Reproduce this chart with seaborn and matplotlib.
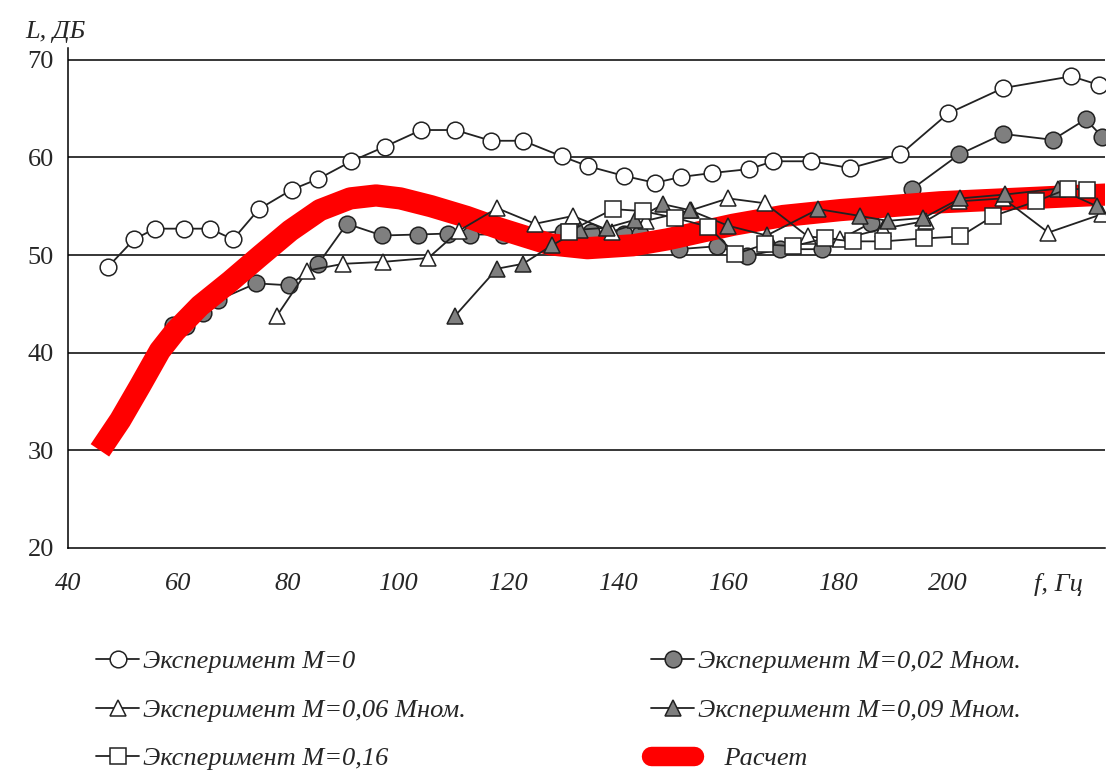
import numpy as np
import pandas as pd
import matplotlib
matplotlib.use('Agg')
import matplotlib.pyplot as plt
import seaborn as sns
from matplotlib.lines import Line2D

# -----------------------------------------------
# Data
# -----------------------------------------------
f_m0 = [47.3, 52.0, 55.8, 61.1, 65.8, 70.0, 74.7, 80.7, 85.5, 91.5, 97.6, 104.2, 110.4,
        116.9, 122.7, 129.8, 134.5, 141.1, 146.7, 151.5, 157.1, 163.8, 168.2, 175.1,
        182.2, 191.3, 200.0, 210.0, 222.4, 227.5]
L_m0 = [48.8, 51.6, 52.7, 52.7, 52.7, 51.6, 54.7, 56.7, 57.8, 59.6, 61.1, 62.8, 62.8,
        61.7, 61.7, 60.1, 59.1, 58.1, 57.4, 58.0, 58.4, 58.8, 59.6, 59.6,
        58.9, 60.3, 64.5, 67.1, 68.3, 67.4]

f_m002 = [59.0, 61.5, 64.5, 67.3, 74.2, 80.2, 85.5, 90.7, 97.1, 103.6, 109.0, 113.0, 119.0,
          130.0, 135.0, 141.0, 144.0, 151.0, 158.0, 163.5, 169.5, 177.0, 186.0, 193.5,
          202.0, 210.0, 219.0, 225.0, 228.0]
L_m002 = [42.8, 42.7, 44.1, 45.4, 47.1, 46.9, 49.1, 53.2, 52.0, 52.1, 52.2, 52.1, 52.1,
          52.4, 52.4, 52.2, 52.2, 50.6, 50.9, 49.9, 50.6, 50.6, 53.3, 56.8,
          60.3, 62.4, 61.8, 63.9, 62.1]

f_m006 = [78.0, 83.5, 90.0, 97.3, 105.5, 111.1, 118.0, 124.9, 131.8, 138.9, 145.0, 153.3,
          160.0, 166.7, 174.5, 180.4, 188.2, 196.0, 202.0, 210.0, 218.2, 228.0]
L_m006 = [43.8, 48.4, 49.1, 49.3, 49.7, 52.5, 54.8, 53.2, 54.0, 52.4, 53.5, 54.6,
          55.8, 55.3, 51.9, 51.6, 52.7, 53.5, 55.5, 55.8, 52.3, 54.2]

f_m009 = [110.4, 118.0, 122.7, 128.0, 133.0, 138.0, 143.0, 148.2, 153.0, 160.0, 167.0,
          176.4, 184.0, 189.0, 195.5, 202.2, 210.4, 220.0, 227.0]
L_m009 = [43.8, 48.6, 49.1, 51.0, 52.6, 52.8, 53.6, 55.2, 54.6, 53.0, 52.0,
          54.7, 54.0, 53.5, 53.8, 55.8, 56.2, 56.8, 55.0]

f_m016 = [131.0, 139.1, 144.5, 150.4, 156.4, 161.3, 166.7, 171.8, 177.6, 182.7, 188.2,
          195.6, 202.2, 208.2, 216.0, 221.8, 225.3]
L_m016 = [52.4, 54.7, 54.5, 53.8, 52.9, 50.1, 51.1, 50.9, 51.7, 51.4, 51.4,
          51.7, 51.9, 54.0, 55.5, 56.8, 56.7]

f_calc = [45.8, 49.5, 53.1, 56.7, 59.5, 64.0, 69.5, 74.9, 80.4, 85.8, 91.3, 96.0, 100.4,
          106.0, 112.5, 118.5, 127.6, 134.4, 142.7, 148.9, 160.9, 170.0, 180.4, 198.5, 228.9]
L_calc = [30.0, 33.1, 36.6, 40.2, 42.2, 44.8, 47.3, 49.9, 52.5, 54.6, 55.8, 56.1, 55.8,
          55.0, 53.9, 52.7, 51.1, 50.7, 51.0, 51.6, 53.1, 54.0, 54.6, 55.4, 56.2]

x_ticks = [40, 60, 80, 100, 120, 140, 160, 180, 200, 220]
x_tick_labels = ['40', '60', '80', '100', '120', '140', '160', '180', '200', 'f, Гц']
y_ticks = [20, 30, 40, 50, 60, 70]

# -----------------------------------------------
# Plot
# -----------------------------------------------
sns.set_style('white')
plt.rcParams['font.family'] = ['Liberation Serif', 'DejaVu Serif']

fig = plt.figure(figsize=(11.13, 7.8), dpi=100)
ax = fig.add_axes([68 / 1113, 1 - 548 / 780, (1105 - 68) / 1113, 500 / 780])

for yv in [30, 40, 50, 60, 70]:
    ax.axhline(yv, color='black', lw=1.1, zorder=1)

edge = '#222222'
common = dict(color=edge, linewidth=1.3, markersize=12, markeredgecolor=edge,
              markeredgewidth=1.1, legend=False, ax=ax)

sns.lineplot(x=f_m0, y=L_m0, marker='o', markerfacecolor='white', zorder=3, **common)
sns.lineplot(x=f_m002, y=L_m002, marker='o', markerfacecolor='#7f7f7f', zorder=2, **common)
sns.lineplot(x=f_m006, y=L_m006, marker='^', markerfacecolor='white', zorder=3, **common)
sns.lineplot(x=f_m009, y=L_m009, marker='^', markerfacecolor='#7f7f7f', zorder=3, **common)
sns.lineplot(x=f_m016, y=L_m016, marker='s', markerfacecolor='white', zorder=4, **common)
sns.lineplot(x=f_calc, y=L_calc, color='#ff0000', linewidth=16, legend=False, ax=ax,
             zorder=2.5, solid_capstyle='butt', solid_joinstyle='round')

ax.set_xlim(40, 228.5)
ax.set_ylim(20, 71.2)
ax.set_xticks(x_ticks)
ax.set_xticklabels(x_tick_labels, fontsize=19, style='italic')
ax.set_yticks(y_ticks)
ax.set_yticklabels([str(v) for v in y_ticks], fontsize=19)
ax.tick_params(axis='x', direction='inout', length=10, width=1, pad=13, color='#555555')
ax.tick_params(axis='y', direction='out', length=6, width=1, pad=4)
ax.set_xlabel('')
ax.set_ylabel('')
for s in ['top', 'right']:
    ax.spines[s].set_visible(False)
ax.spines['left'].set_color('black')
ax.spines['bottom'].set_color('black')
ax.spines['left'].set_linewidth(1.1)
ax.spines['bottom'].set_linewidth(1.1)

fig.text(25 / 1113, 1 - 32 / 780, 'L, ДБ', fontsize=19, style='italic', va='center')

# legend
def h(marker, fc):
    return Line2D([], [], color=edge, lw=1.3, marker=marker, markersize=12,
                  markerfacecolor=fc, markeredgecolor=edge, markeredgewidth=1.1)

handles = [h('o', 'white'), h('^', 'white'), h('s', 'white'),
           h('o', '#7f7f7f'), h('^', '#7f7f7f'),
           Line2D([], [], color='#ff0000', lw=14, solid_capstyle='round')]
labels = ['Эксперимент M=0', 'Эксперимент M=0,06 Мном.', 'Эксперимент M=0,16',
          'Эксперимент M=0,02 Мном.', 'Эксперимент M=0,09 Мном.', '    Расчет']
leg = fig.legend(handles, labels, ncol=2, loc='upper left',
                 bbox_to_anchor=(72 / 1113, 1 - 626 / 780), frameon=False,
                 prop={'family': 'Liberation Serif', 'style': 'italic', 'size': 19},
                 handlelength=1.65, handletextpad=0.15, columnspacing=7.0,
                 labelspacing=0.95)

fig.savefig('out.png', dpi=100)
